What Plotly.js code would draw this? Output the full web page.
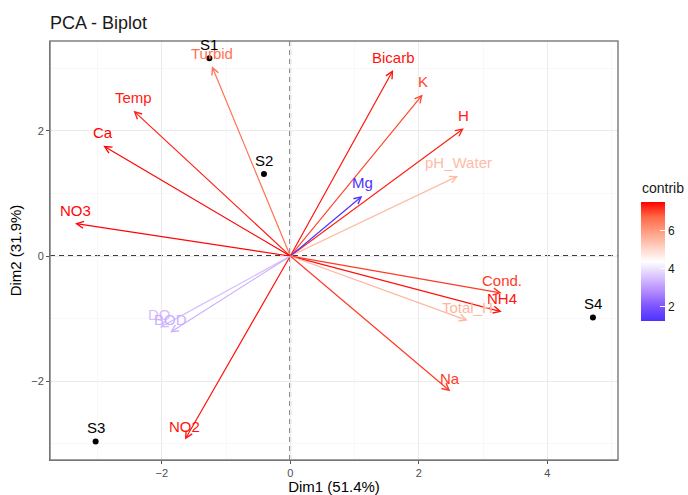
<!DOCTYPE html>
<html>
<head>
<meta charset="utf-8">
<script src="https://cdn.plot.ly/plotly-3.0.1.min.js"></script>
<style>html,body{margin:0;padding:0;background:#fff;}#chart{width:688px;height:495px;}</style>
</head>
<body>
<div id="chart"></div>
<script>
// Individuals (sites)
const siteNames = ["S1", "S2", "S3", "S4"];
const siteDim1 = [-1.26, -0.41, -3.03, 4.71];
const siteDim2 = [3.16, 1.31, -2.96, -0.98];

// Variables (arrow tips)
const varNames = ["Turbid", "Temp", "Ca", "NO3", "Bicarb", "K", "H", "pH_Water", "Mg",
                  "Cond.", "NH4", "Total_H", "Na", "NO2", "DO", "BOD"];
const varDim1 = [-1.22, -2.44, -2.91, -3.35, 1.60, 2.06, 2.70, 2.61, 1.12,
                 3.29, 3.29, 2.76, 2.49, -1.64, -2.03, -1.87];
const varDim2 = [3.03, 2.32, 1.76, 0.52, 2.97, 2.58, 2.04, 1.28, 0.96,
                 -0.59, -0.89, -1.03, -2.16, -2.93, -1.14, -1.22];
const varContrib = [6.6, 7.3, 7.54, 7.5, 7.4, 7.0, 7.3, 5.5, 1.26,
                    7.1, 7.4, 5.6, 7.1, 7.4, 3.5, 3.3];

const colorbarTitle = "contrib";
const colorbarTicks = [2, 4, 6];

const cscale = [
  [0, [75,50,255]], [0.125, [126,85,255]], [0.25, [179,139,255]], [0.375, [220,197,255]],
  [0.5, [255,255,255]], [0.625, [255,207,191]], [0.75, [255,158,129]], [0.875, [255,104,70]],
  [1, [255,0,0]]
];
const cmin = Math.min(...varContrib), cmax = Math.max(...varContrib);
function colorFor(v) {
  const t = (v - cmin) / (cmax - cmin);
  for (let i = 1; i < cscale.length; i++) {
    if (t <= cscale[i][0]) {
      const a = cscale[i-1], b = cscale[i];
      const f = (t - a[0]) / (b[0] - a[0]);
      const c = a[1].map((x, k) => Math.round(x + (b[1][k] - x) * f));
      return `rgb(${c[0]},${c[1]},${c[2]})`;
    }
  }
  return 'rgb(255,0,0)';
}
const plotlyScale = cscale.map(s => [s[0], `rgb(${s[1].join(',')})`]);
const FONT = 'Liberation Sans, Arial, sans-serif';

// plot area in pixels (for placing the colorbar legend)
const W = 688, H = 495, ML = 50, MR = 70.3, MT = 40.7, MB = 34.5;
const PW = W - ML - MR, PH = H - MT - MB;

const annotations = [];
varNames.forEach((n, i) => {
  const col = colorFor(varContrib[i]);
  annotations.push({
    x: varDim1[i], y: varDim2[i], xref: 'x', yref: 'y',
    ax: 0, ay: 0, axref: 'x', ayref: 'y',
    text: '', showarrow: true, arrowhead: 5, arrowsize: 1.15, arrowwidth: 1.2,
    arrowcolor: col, standoff: 0, startstandoff: 0, borderpad: 0
  });
});
varNames.forEach((n, i) => {
  annotations.push({
    x: varDim1[i], y: varDim2[i], xref: 'x', yref: 'y',
    text: n, showarrow: false, yshift: 13, xanchor: 'center', yanchor: 'middle',
    font: {family: FONT, size: 15, color: colorFor(varContrib[i])}
  });
});
siteNames.forEach((n, i) => {
  annotations.push({
    x: siteDim1[i], y: siteDim2[i], xref: 'x', yref: 'y',
    text: n, showarrow: false, yshift: 13.5, xanchor: 'center', yanchor: 'middle',
    font: {family: FONT, size: 15, color: '#000'}
  });
});
// colorbar title
annotations.push({
  xref: 'paper', yref: 'paper', x: (640 - ML) / PW, y: (H - MB - 188) / PH,
  xanchor: 'left', yanchor: 'middle', showarrow: false, text: colorbarTitle,
  font: {family: FONT, size: 14, color: '#1a1a1a'}
});

const traces = [
  {
    type: 'scatter', mode: 'markers', x: siteDim1, y: siteDim2,
    marker: {color: '#000', size: 6}, hoverinfo: 'text', text: siteNames, showlegend: false
  },
  {
    type: 'scatter', mode: 'markers', x: varDim1, y: varDim2, showlegend: false, hoverinfo: 'skip',
    marker: {
      color: varContrib, colorscale: plotlyScale, opacity: 0, size: 1, showscale: true,
      colorbar: {
        xref: 'paper', yref: 'paper',
        x: (640.7 - ML) / PW, xanchor: 'left', xpad: 0,
        y: (H - MB - 201.7) / PH, yanchor: 'top', ypad: 0,
        len: 119, lenmode: 'pixels', thickness: 24, outlinewidth: 0,
        tickvals: colorbarTicks, ticktext: colorbarTicks.map(String),
        ticks: 'inside', ticklen: 5, tickcolor: '#fff', tickwidth: 1,
        tickfont: {family: FONT, size: 12, color: '#1a1a1a'}
      }
    }
  }
];

const axisCommon = {
  showgrid: true, gridcolor: '#EBEBEB', gridwidth: 1,
  zeroline: false, showline: true, linecolor: '#555', linewidth: 1,
  ticks: 'outside', ticklen: 3, tickcolor: '#555', tickwidth: 1,
  tickfont: {family: FONT, size: 11, color: '#4D4D4D'},
  minor: {dtick: 1, showgrid: true, gridcolor: '#F4F4F4', gridwidth: 0.6},
  automargin: false
};

const layout = {
  width: W, height: H,
  margin: {l: ML, r: MR, t: MT, b: MB, autoexpand: false},
  paper_bgcolor: '#fff', plot_bgcolor: '#fff',
  title: {text: 'PCA - Biplot', x: 0, xref: 'paper', xanchor: 'left', y: 1 - 22.5 / H, yref: 'container', yanchor: 'middle',
          font: {family: FONT, size: 18, color: '#1a1a1a'}},
  xaxis: Object.assign({}, axisCommon, {
    range: [-3.74, 5.10], dtick: 2, tick0: 0,
    title: {text: 'Dim1 (51.4%)', standoff: 4, font: {family: FONT, size: 15, color: '#000'}}
  }),
  yaxis: Object.assign({}, axisCommon, {
    range: [-3.256, 3.434], dtick: 2, tick0: 0,
    title: {text: 'Dim2 (31.9%)', standoff: 6, font: {family: FONT, size: 15, color: '#000'}}
  }),
  shapes: [
    {type: 'rect', xref: 'paper', yref: 'paper', x0: 0, x1: 1, y0: 0, y1: 1, line: {color: '#808080', width: 1.5}, layer: 'above'},
    {type: 'line', xref: 'x', yref: 'paper', x0: 0, x1: 0, y0: 0, y1: 1, line: {color: '#000', width: 1.5, dash: '5px,4px'}, layer: 'below'},
    {type: 'line', xref: 'paper', yref: 'y', x0: 0, x1: 1, y0: 0, y1: 0, line: {color: '#000', width: 1.5, dash: '5px,4px'}, layer: 'below'}
  ],
  annotations: annotations,
  showlegend: false
};

Plotly.newPlot('chart', traces, layout, {displayModeBar: false, staticPlot: true});
</script>
</body>
</html>
